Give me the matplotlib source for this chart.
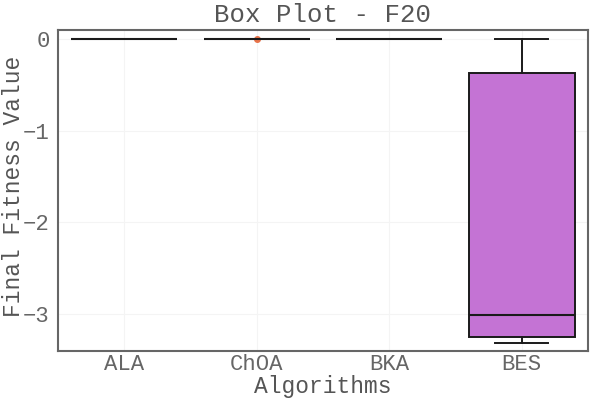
import matplotlib
matplotlib.use("Agg")
import matplotlib.pyplot as plt

algorithms = ["ALA", "ChOA", "BKA", "BES"]
whislo = [0.0, 0.0, 0.0, -3.32]
q1 = [0.0, 0.0, 0.0, -3.25]
med = [0.0, 0.0, 0.0, -3.01]
q3 = [0.0, 0.0, 0.0, -0.37]
whishi = [0.0, 0.0, 0.0, 0.0]
fliers = [[], [0.0], [], []]
colors = ["#1f4e79", "#8c3a1e", "#2e6b3a", "#c473d4"]
flier_colors = ["#1f77b4", "#e8734a", "#2ca02c", "#9467bd"]

plt.rcParams['font.family'] = ['Liberation Mono', 'DejaVu Sans Mono']

fig, ax = plt.subplots(figsize=(6, 4), dpi=100)
stats = []
for i, name in enumerate(algorithms):
    stats.append(dict(label=name, whislo=whislo[i], q1=q1[i], med=med[i],
                      q3=q3[i], whishi=whishi[i], fliers=fliers[i]))
bp = ax.bxp(stats, positions=range(len(algorithms)), widths=0.8,
            patch_artist=True, showfliers=True,
            boxprops=dict(edgecolor="#1a1a1a", linewidth=1.4),
            medianprops=dict(color="#1a1a1a", linewidth=1.5),
            whiskerprops=dict(color="#1a1a1a", linewidth=1.4),
            capprops=dict(color="#1a1a1a", linewidth=1.4),
            capwidths=0.4)
for i, patch in enumerate(bp['boxes']):
    patch.set_facecolor(colors[i])
for i, fl in enumerate(bp['fliers']):
    fl.set_marker('o')
    fl.set_markersize(4)
    fl.set_markerfacecolor(flier_colors[i])
    fl.set_markeredgecolor(flier_colors[i])

ax.set_xlim(-0.5, 3.5)
ax.set_ylim(-3.41, 0.1)
ax.set_yticks([0, -1, -2, -3])
ax.grid(True, color="#f4f4f4", linewidth=0.8)
ax.set_axisbelow(True)
for s in ax.spines.values():
    s.set_color("#666666")
    s.set_linewidth(1.5)
ax.tick_params(length=0, labelsize=16, labelcolor="#666666")
ax.tick_params(axis='y', pad=6)
ax.tick_params(axis='x', pad=1.7)
fig.subplots_adjust(left=0.097, right=0.98, top=0.925, bottom=0.122)

fig.text(323 / 600, 1 - 22 / 400, "Box Plot - F20", fontsize=18.5,
         color="#555555", ha='center', va='baseline')
fig.text(323 / 600, 1 - 393 / 400, "Algorithms", fontsize=16.5,
         color="#555555", ha='center', va='baseline')
fig.text(20 / 600, 1 - 186 / 400, "Final Fitness Value", fontsize=16.5,
         color="#555555", ha='center', va='baseline', rotation=90,
         rotation_mode='anchor')
fig.savefig("out.png")
